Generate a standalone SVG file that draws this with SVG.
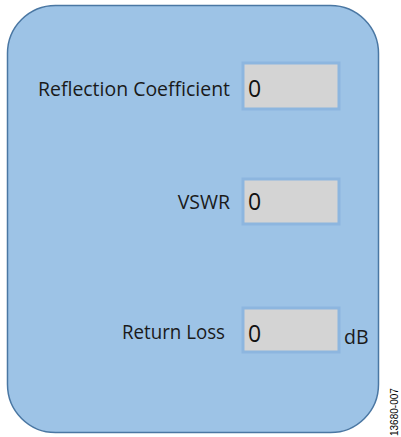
<svg xmlns="http://www.w3.org/2000/svg" width="401" height="437" viewBox="0 0 401 437">
  <style>
    .panel { fill: #9dc3e6; stroke: #4a77a3; stroke-width: 1.5; }
    .field { fill: #d4d4d4; stroke: #8db6df; stroke-width: 3; }
    .label { font-family: "Open Sans", "Noto Sans", sans-serif; font-size: 19.5px; fill: #1a1a1a; }
    .value { font-family: "Open Sans", "Noto Sans", sans-serif; font-size: 23px; fill: #111; }
    .code { font-family: "Liberation Sans", Arial, sans-serif; font-size: 10px; fill: #000; }
  </style>
  <g id="panel">
    <rect class="panel" x="7.5" y="5.5" width="371" height="427" rx="48" ry="48"/>
  </g>
  <g id="reflection-coefficient">
    <text class="label" x="230" y="96" text-anchor="end" textLength="192" lengthAdjust="spacingAndGlyphs">Reflection Coefficient</text>
    <rect class="field" x="243" y="63" width="96" height="46"/>
    <text class="value" x="248" y="97">0</text>
  </g>
  <g id="vswr">
    <text class="label" x="230" y="209" text-anchor="end">VSWR</text>
    <rect class="field" x="243" y="179" width="96" height="45"/>
    <text class="value" x="248" y="210">0</text>
  </g>
  <g id="return-loss">
    <text class="label" x="225" y="339" text-anchor="end" textLength="103" lengthAdjust="spacingAndGlyphs">Return Loss</text>
    <rect class="field" x="243" y="308" width="96" height="44"/>
    <text class="value" x="248" y="342">0</text>
    <text class="label" x="344" y="344">dB</text>
  </g>
  <g id="connectors"/>
  <text class="code" transform="translate(398 436) rotate(-90)">13680-007</text>
</svg>
